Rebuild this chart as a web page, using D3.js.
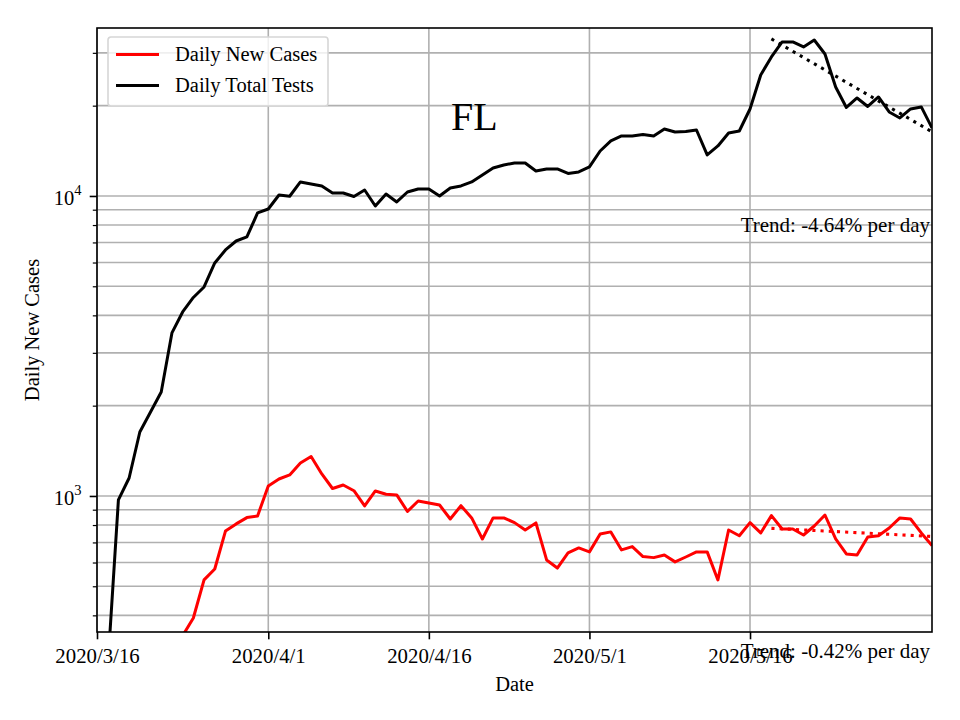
<!DOCTYPE html>
<html><head><meta charset="utf-8">
<script src="https://cdn.jsdelivr.net/npm/d3@7/dist/d3.min.js"></script>
<style>
body{margin:0;background:#fff}
svg{display:block}
text{font-family:"Liberation Serif","Times New Roman",serif;fill:#000}
</style>
</head><body>
<svg id="chart" width="960" height="720"></svg>
<script>
// ---------------- data ----------------
const startDate = "2020-03-16";
const endDate = "2020-06-02";
const stateName = "FL";
const seriesNames = ["Daily New Cases", "Daily Total Tests"];
const newCases = [null, null, null, null, null, null, null, null,
  342, 392, 525, 571, 764, 807, 847, 858, 1080, 1139, 1175, 1288, 1354, 1184, 1059, 1088,
  1041, 926, 1039, 1013, 1008, 888, 962, 948, 933, 838, 928, 845, 719, 845, 845, 815,
  770, 813, 612, 575, 646, 671, 651, 747, 759, 661, 678, 628, 623, 636, 603, 626, 651,
  651, 525, 770, 737, 815, 753, 860, 776, 776, 741, 794, 864, 719, 641, 636, 730, 737,
  782, 845, 838, 753, 683];
const totalTests = [null, 267, 970, 1148, 1634, 1905, 2221, 3495, 4105, 4588, 4974, 5979,
  6607, 7079, 7302, 8777, 9049, 10077, 9977, 11135, 10965, 10798, 10233, 10233, 9962,
  10471, 9261, 10155, 9550, 10311, 10551, 10551, 10000, 10633, 10798, 11135, 11749, 12397,
  12686, 12882, 12882, 12115, 12303, 12303, 11885, 12023, 12494, 14125, 15253, 15849,
  15849, 16032, 15849, 16724, 16342, 16406, 16596, 13700, 14678, 16218, 16469, 19498,
  25318, 29058, 32614, 32614, 31384, 33113, 29734, 23080, 19724, 21218, 19876, 21380,
  19055, 18197, 19498, 19807, 16856];
const tickDates = ["2020-03-16", "2020-04-01", "2020-04-16", "2020-05-01", "2020-05-16"];
const tickLabels = ["2020/3/16", "2020/4/1", "2020/4/16", "2020/5/1", "2020/5/16"];
const yMajorTicks = [1000, 10000];
const yMajorExp = ["3", "4"];
const yMinorTicks = [400, 500, 600, 700, 800, 900, 2000, 3000, 4000, 5000, 6000, 7000, 8000, 9000, 20000, 30000];
const trendDates = ["2020-05-18", "2020-06-02"];
const trendTests = [33370, 16360];
const trendCases = [780, 733];
const trendLabels = ["Trend: -4.64% per day", "Trend: -0.42% per day"];
const yDomain = [352, 36300];

// ---------------- layout ----------------
const W = 960, H = 720;
const m = {left: 97, right: 28, top: 28, bottom: 88};
const pw = W - m.left - m.right, ph = H - m.top - m.bottom;
const parse = d3.utcParse("%Y-%m-%d");
const dates = d3.utcDay.range(parse(startDate), d3.utcDay.offset(parse(endDate), 1));

const x = d3.scaleUtc().domain([parse(startDate), parse(endDate)]).range([0, pw]);
const y = d3.scaleLog().domain(yDomain).range([ph, 0]);

const svg = d3.select("#chart");
svg.append("rect").attr("width", W).attr("height", H).attr("fill", "#fff");
const g = svg.append("g").attr("transform", `translate(${m.left},${m.top})`);

g.append("defs").append("clipPath").attr("id", "clip")
  .append("rect").attr("width", pw).attr("height", ph);

const gridColor = "#b0b0b0", gridW = 1.6;
// grid
const grid = g.append("g");
grid.selectAll("line.h").data(yMajorTicks.concat(yMinorTicks)).join("line")
  .attr("x1", 0).attr("x2", pw).attr("y1", d => y(d)).attr("y2", d => y(d))
  .attr("stroke", gridColor).attr("stroke-width", gridW);
grid.selectAll("line.v").data(tickDates).join("line")
  .attr("y1", 0).attr("y2", ph).attr("x1", d => x(parse(d))).attr("x2", d => x(parse(d)))
  .attr("stroke", gridColor).attr("stroke-width", gridW);

// lines
const plot = g.append("g").attr("clip-path", "url(#clip)");
const line = d3.line().defined(d => d.v != null).x(d => x(d.t)).y(d => y(d.v));
const casesData = dates.map((t, i) => ({t, v: newCases[i]}));
const testsData = dates.map((t, i) => ({t, v: totalTests[i]}));
plot.append("path").datum(casesData).attr("d", line)
  .attr("fill", "none").attr("stroke", "#ff0000").attr("stroke-width", 3).attr("stroke-linejoin", "round");
plot.append("path").datum(testsData).attr("d", line)
  .attr("fill", "none").attr("stroke", "#000").attr("stroke-width", 3).attr("stroke-linejoin", "round");
const trendLine = d3.line().x(d => x(d.t)).y(d => y(d.v));
plot.append("path").datum(trendDates.map((d, i) => ({t: parse(d), v: trendTests[i]}))).attr("d", trendLine)
  .attr("fill", "none").attr("stroke", "#000").attr("stroke-width", 3.1).attr("stroke-dasharray", "3.1,5.1");
plot.append("path").datum(trendDates.map((d, i) => ({t: parse(d), v: trendCases[i]}))).attr("d", trendLine)
  .attr("fill", "none").attr("stroke", "#ff0000").attr("stroke-width", 3.1).attr("stroke-dasharray", "3.1,5.1");

// axes
const xAxis = d3.axisBottom(x).tickValues(tickDates.map(parse)).tickFormat((d, i) => tickLabels[i])
  .tickSize(7.3).tickPadding(7.3);
const gx = g.append("g").attr("transform", `translate(0,${ph})`).call(xAxis);
gx.select(".domain").remove();
gx.selectAll(".tick line").attr("stroke", "#000").attr("stroke-width", 1.6);
gx.selectAll(".tick text").attr("font-size", 20.8).attr("font-family", "Liberation Serif").attr("dy", "0.78em");

const yMinorAxis = d3.axisLeft(y).tickValues(yMinorTicks).tickFormat("").tickSize(4.2);
const gym = g.append("g").call(yMinorAxis);
gym.select(".domain").remove();
gym.selectAll(".tick line").attr("stroke", "#000").attr("stroke-width", 1.2);

const yAxis = d3.axisLeft(y).tickValues(yMajorTicks).tickFormat("").tickSize(7.3);
const gy = g.append("g").call(yAxis);
gy.select(".domain").remove();
gy.selectAll(".tick line").attr("stroke", "#000").attr("stroke-width", 1.6);
gy.selectAll(".tick").append("text").attr("fill", "#000")
  .attr("text-anchor", "end").attr("x", -15.5).attr("y", 9)
  .each(function(d, i) {
    const t = d3.select(this);
    t.append("tspan").attr("font-size", 20.5).text("10");
    t.append("tspan").attr("font-size", 14.5).attr("dy", -10).text(yMajorExp[i]);
  });

// frame
g.append("rect").attr("width", pw).attr("height", ph).attr("fill", "none")
  .attr("stroke", "#000").attr("stroke-width", 1.6);

// legend
const lg = g.append("g").attr("transform", "translate(11,9)");
lg.append("rect").attr("width", 220).attr("height", 69).attr("rx", 3)
  .attr("fill", "#fff").attr("fill-opacity", 0.8).attr("stroke", "#d6d6d6").attr("stroke-width", 1.6);
const legColors = ["#ff0000", "#000"];
seriesNames.forEach((name, i) => {
  const yy = 17.5 + i * 31;
  lg.append("line").attr("x1", 8).attr("x2", 51).attr("y1", yy).attr("y2", yy)
    .attr("stroke", legColors[i]).attr("stroke-width", 3);
  lg.append("text").attr("x", 67).attr("y", yy + 6.5).attr("font-size", 20.5).text(name);
});

// title
g.append("text").attr("x", 354).attr("y", 102).attr("font-size", 40).text(stateName);

// trend labels
g.append("text").attr("x", pw - 2).attr("y", 204).attr("text-anchor", "end")
  .attr("font-size", 21).text(trendLabels[0]);
g.append("text").attr("x", pw - 2).attr("y", 630).attr("text-anchor", "end")
  .attr("font-size", 21).text(trendLabels[1]);

// axis labels
svg.append("text").attr("x", m.left + pw / 2).attr("y", 691).attr("text-anchor", "middle")
  .attr("font-size", 20.5).text("Date");
svg.append("text").attr("transform", `translate(39,${m.top + ph / 2}) rotate(-90)`)
  .attr("text-anchor", "middle").attr("font-size", 20.5).text(seriesNames[0]);
</script>
</body></html>
